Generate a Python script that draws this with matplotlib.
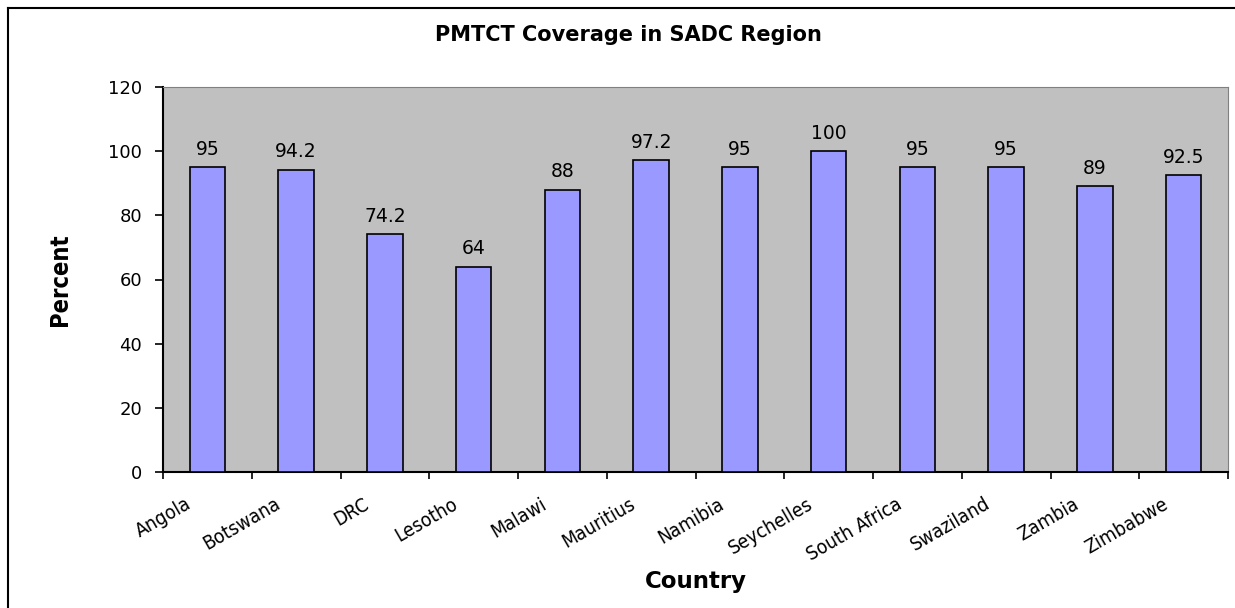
import numpy as np
import matplotlib
matplotlib.use('Agg')
import matplotlib.pyplot as plt
import matplotlib.transforms as mtransforms
from matplotlib.lines import Line2D

countries = ['Angola', 'Botswana', 'DRC', 'Lesotho', 'Malawi', 'Mauritius',
             'Namibia', 'Seychelles', 'South Africa', 'Swaziland', 'Zambia', 'Zimbabwe']
coverage = [95, 94.2, 74.2, 64, 88, 97.2, 95, 100, 95, 95, 89, 92.5]
yticks = [0, 20, 40, 60, 80, 100, 120]

bar_col = '#9999FF'
plot_bg = '#C0C0C0'

fig = plt.figure(figsize=(12.35, 6.08), dpi=100)
ax = fig.add_axes([163/1235, 1-472/608, (1228-163)/1235, (472-87)/608])
ax.set_facecolor(plot_bg)

x = np.arange(len(countries))
ax.bar(x, coverage, width=0.4, color=bar_col, edgecolor='black', linewidth=1.2, zorder=3)

for xi, v in zip(x, coverage):
    ax.annotate('%g' % v, (xi, v), xytext=(0, 6), textcoords='offset points',
                ha='center', va='bottom', fontsize=13.5, family='DejaVu Sans')

ax.set_xlim(-0.5, len(countries) - 0.5)
ax.set_ylim(0, 120)
ax.set_yticks(yticks)
ax.tick_params(axis='y', direction='out', length=6, width=1.2, pad=9, labelsize=13)

# category boundaries get the tick marks, names sit on the minor ticks
ax.set_xticks(np.arange(-0.5, len(countries), 1))
ax.set_xticklabels([])
ax.set_xticks(x, minor=True)
ax.set_xticklabels(countries, minor=True, rotation=30, ha='right', va='top',
                   rotation_mode='anchor', fontsize=14, family='DejaVu Sans',
                   fontstretch='condensed')
ax.tick_params(axis='x', which='major', direction='out', length=5, width=1.2)
ax.tick_params(axis='x', which='minor', length=0, pad=16)
offset = mtransforms.ScaledTranslation(-0.22, 0, fig.dpi_scale_trans)
for lab in ax.get_xticklabels(minor=True):
    lab.set_transform(lab.get_transform() + offset)

ax.spines['left'].set_linewidth(1.5)
ax.spines['bottom'].set_linewidth(1.5)
ax.spines['top'].set_color('#808080')
ax.spines['right'].set_color('#808080')

ax.set_xlabel('Country', fontsize=16.5, fontweight='bold', family='DejaVu Sans')
ax.xaxis.set_label_coords(0.5, -0.255)

fig.text(60/1235, 1-280/608, 'Percent', rotation=90, ha='center', va='center',
         fontsize=17, fontweight='bold', family='DejaVu Sans', fontstretch='condensed')
fig.text(628/1235, 1-35/608, 'PMTCT Coverage in SADC Region', ha='center', va='center',
         fontsize=15, fontweight='bold', family='DejaVu Sans')

# chart area border (only left and top edge fall inside the picture)
x0 = 8/1235
y0 = 1-8/608
fig.add_artist(Line2D([x0, x0], [0, y0], color='black', lw=1.5))
fig.add_artist(Line2D([x0, 1], [y0, y0], color='black', lw=1.5))

plt.savefig('out.png', dpi=100)
